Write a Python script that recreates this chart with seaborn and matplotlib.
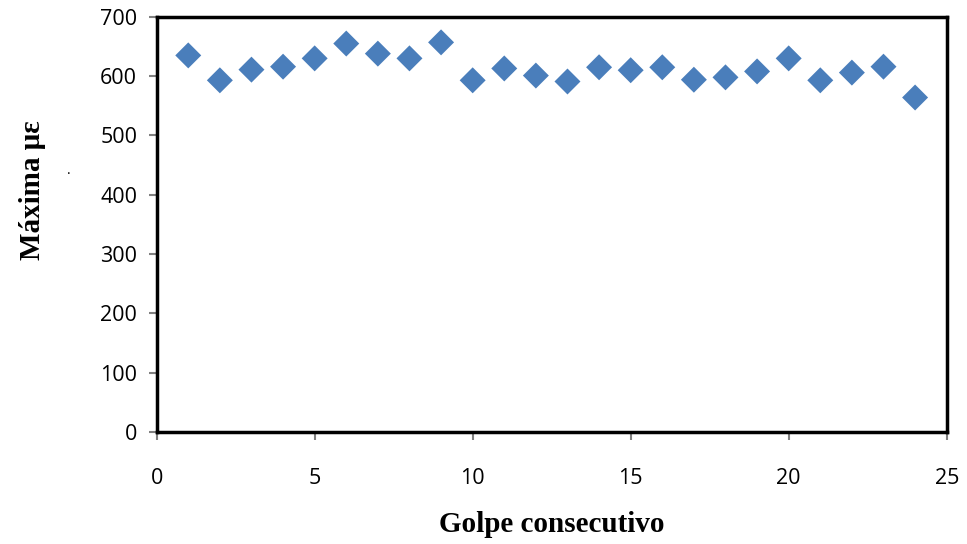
import matplotlib
matplotlib.use("Agg")
import matplotlib.pyplot as plt
import seaborn as sns
import pandas as pd

golpe = list(range(1, 25))
maxima = [635, 593, 611, 616, 630, 655, 638, 630, 657, 593, 613, 601,
          591, 615, 610, 615, 594, 598, 608, 630, 593, 606, 616, 564]
x_ticks = [0, 5, 10, 15, 20, 25]
y_ticks = [0, 100, 200, 300, 400, 500, 600, 700]

df = pd.DataFrame({"golpe": golpe, "maxima": maxima})

sns.set_theme(style="white")
plt.rcParams["font.family"] = ["Open Sans", "DejaVu Sans"]

fig = plt.figure(figsize=(9.67, 5.44), dpi=100)
ax = fig.add_axes([0.162, 0.206, 0.817, 0.763])

sns.scatterplot(data=df, x="golpe", y="maxima", marker="D", s=175,
                color="#4A7EBB", edgecolor="none", ax=ax)

ax.set_xlim(0, 25)
ax.set_ylim(0, 700)
ax.set_xticks(x_ticks)
ax.set_yticks(y_ticks)
ax.tick_params(axis="both", bottom=True, left=True, direction="out",
               length=6, width=1.5, color="#808080", labelsize=15.5,
               labelcolor="black")
ax.tick_params(axis="x", pad=20)
ax.tick_params(axis="y", pad=8)

for side in ["top", "right", "left", "bottom"]:
    ax.spines[side].set_visible(True)
    ax.spines[side].set_color("black")
    ax.spines[side].set_linewidth(2.5)

ax.set_xlabel("Golpe consecutivo", fontsize=21, fontweight="bold",
              family=["Liberation Serif"], labelpad=16, color="black")
ax.set_ylabel("Máxima με", fontsize=21, fontweight="bold",
              family=["Liberation Serif"], color="black")
ax.yaxis.set_label_coords(-0.14, 0.583)
fig.text(0.069, 0.68, ".", fontsize=10, color="black")

fig.savefig("out.png", dpi=100, facecolor="white")
